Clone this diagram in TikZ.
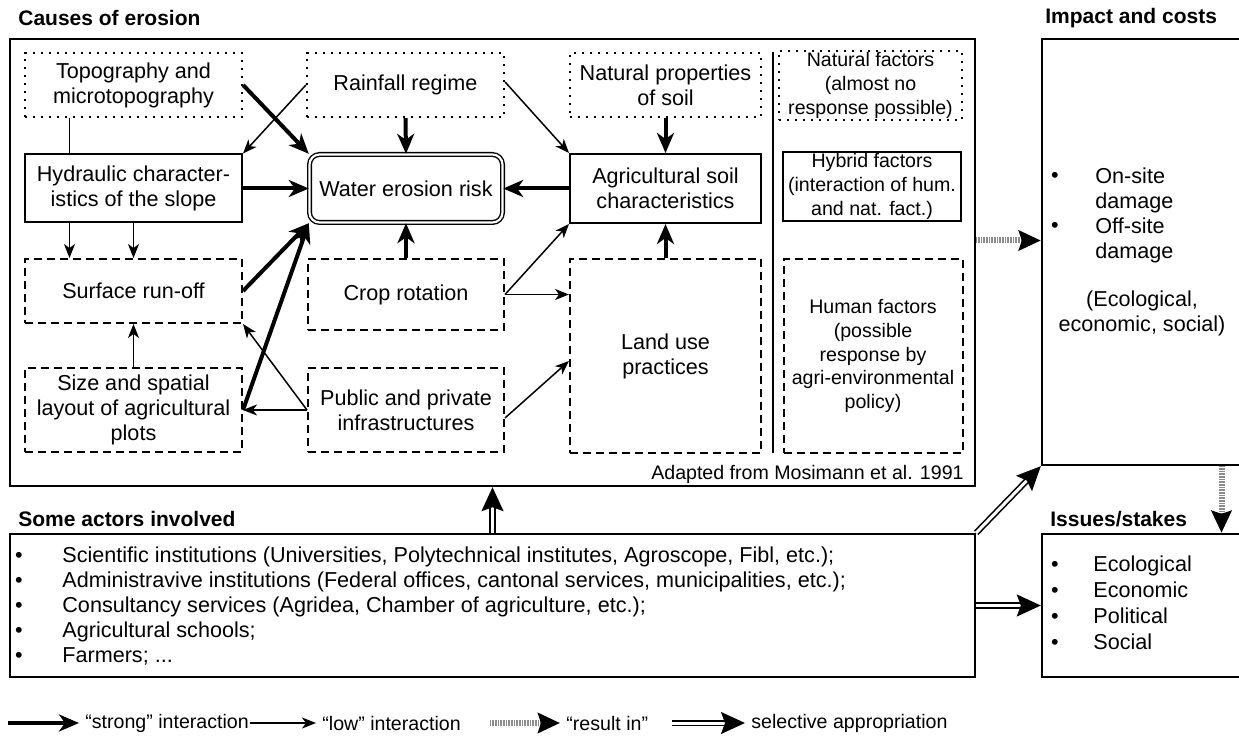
\documentclass[tikz,border=0pt]{standalone}
\usepackage{fontspec}
\setmainfont{Liberation Sans}
\usetikzlibrary{arrows.meta}
\tikzset{txt/.style={align=center, inner sep=1pt, font=\fontsize{10.8}{12.5}\selectfont},
  smalltxt/.style={align=center, inner sep=1pt, font=\fontsize{9.8}{11.8}\selectfont},
  legtxt/.style={anchor=west, inner xsep=3pt, inner ysep=1pt, font=\fontsize{9.8}{11.8}\selectfont},
  listtxt/.style={anchor=west, inner sep=0pt, text height=8pt, text depth=2.5pt, font=\fontsize{10.8}{12.5}\selectfont},
  titletxt/.style={anchor=west, inner sep=0pt, font=\fontsize{10.5}{12}\selectfont\bfseries},
  solidbox/.style={draw, line width=1pt, txt},
  riskbox/.style={draw, double, line width=0.7pt, double distance=1.1pt, rounded corners=5pt, txt},
  dotbox/.style={draw, line width=1.1pt, dash pattern=on 1.1pt off 2.9pt, txt},
  dashbox/.style={draw, line width=1pt, dash pattern=on 4pt off 2.5pt, txt},
  framebox/.style={draw, line width=1.2pt, inner sep=0pt},
  strongarr/.style={line width=2pt, -{Stealth[length=10pt, width=8.5pt, inset=3pt]}},
  lowarr/.style={line width=0.75pt, -{Stealth[length=7pt, width=5.5pt, inset=2pt]}},
  resarr/.style={draw=black!45, line width=3pt, dash pattern=on 0.35pt off 0.45pt, -{Stealth[length=11pt, width=10pt, inset=1.5pt, black]}},
  apparr/.style={double, line width=0.8pt, double distance=1.5pt, -{Stealth[length=12pt, width=11pt, inset=2pt]}}}

\begin{document}
\begin{tikzpicture}[x=0.5pt, y=-0.5pt]
  \useasboundingbox (0,0) rectangle (1239,749);
  \node [framebox, minimum width=482.5pt, minimum height=223.5pt] (causes) at (492.5,262.5) {};
  \node [framebox, minimum width=101.5pt, minimum height=213pt] (impact) at (1143.5,252) {};
  \node [framebox, minimum width=482.5pt, minimum height=71.5pt] (actors) at (492.5,605.5) {};
  \node [framebox, minimum width=101.5pt, minimum height=71.5pt] (issues) at (1143.5,605.5) {};
  \node [titletxt] (tcauses) at (18,18) {Causes of erosion};
  \node [titletxt] (timpact) at (1045,18) {Impact and costs};
  \node [titletxt] (tactors) at (18,519) {Some actors involved};
  \node [titletxt] (tissues) at (1050,519) {Issues/stakes};

  \node [dotbox, minimum width=108.5pt, minimum height=32pt] (topo) at (133.5,85) {Topography and\\microtopography};
  \node [dotbox, minimum width=98.5pt, minimum height=32pt] (rain) at (405.5,85) {Rainfall regime};
  \node [dotbox, minimum width=95.5pt, minimum height=32pt] (natprop) at (665.5,85) {Natural properties\\of soil};
  \node [solidbox, minimum width=108.5pt, minimum height=34pt] (hydr) at (133.5,188.5) {Hydraulic character-\\istics of the slope};
  \node [riskbox, minimum width=96.5pt, minimum height=34pt] (risk) at (406,188.5) {Water erosion risk};
  \node [solidbox, minimum width=95.5pt, minimum height=34.5pt] (agsoil) at (665.5,188.5) {Agricultural soil\\characteristics};
  \node [dashbox, minimum width=108.5pt, minimum height=32pt] (runoff) at (133.5,291) {Surface run-off};
  \node [dashbox, minimum width=98pt, minimum height=35.5pt] (crop) at (406,294.5) {Crop rotation};
  \node [dashbox, minimum width=95.5pt, minimum height=97pt] (landuse) at (665.5,356) {Land use\\practices};
  \node [dashbox, minimum width=108.5pt, minimum height=42pt] (plots) at (133.5,410) {Size and spatial\\layout of agricultural\\plots};
  \node [dashbox, minimum width=98pt, minimum height=42pt] (infra) at (406,410) {Public and private\\infrastructures};

  \draw [line width=1pt] (773,52) -- (773,453);
  \node [dotbox, smalltxt, minimum width=91.5pt, minimum height=34.5pt] (natfac) at (870.5,85.5) {Natural factors\\(almost no\\response possible)};
  \node [solidbox, smalltxt, minimum width=89pt, minimum height=33.5pt] (hybrid) at (872,186.5) {Hybrid factors\\(interaction of hum.\\and nat. fact.)};
  \node [dashbox, smalltxt, minimum width=89.5pt, minimum height=97pt] (human) at (873,356) {Human factors\\(possible\\response by\\agri-environmental\\policy)};
  \node [smalltxt, anchor=east] (source) at (966,474) {Adapted from Mosimann et al. 1991};

  \draw [strongarr] (topo.east) -- (risk.north west);
  \draw [lowarr] (rain.west) -- (hydr.north east);
  \draw [line width=0.75pt] ([xshift=-32pt]topo.south) -- ([xshift=-32pt]hydr.north);
  \draw [strongarr] (rain.south) -- (risk.north);
  \draw [lowarr] ([yshift=1.5pt]rain.east) -- (agsoil.north west);
  \draw [strongarr] (natprop.south) -- (agsoil.north);
  \draw [strongarr] (hydr.east) -- (risk.west);
  \draw [strongarr] (agsoil.west) -- (risk.east);
  \draw [lowarr] ([xshift=-32pt]hydr.south) -- ([xshift=-32pt]runoff.north);
  \draw [lowarr] (hydr.south) -- (runoff.north);
  \draw [strongarr] (runoff.east) -- (risk.south west);
  \draw [strongarr] (plots.east) -- (risk.south west);
  \draw [lowarr] (infra.west) -- (plots.east);
  \draw [lowarr] (infra.west) -- (runoff.south east);
  \draw [lowarr] (plots.north) -- (runoff.south);
  \draw [strongarr] (crop.north) -- (risk.south);
  \draw [lowarr] (crop.east) -- (agsoil.south west);
  \draw [lowarr] (crop.east) -- (crop.east -| landuse.west);
  \draw [lowarr] ([yshift=-4pt]infra.east) -- ([yshift=-2.5pt]landuse.west);
  \draw [strongarr] (landuse.north) -- (agsoil.south);

  \foreach \y in {177,227} {
    \node [listtxt, anchor=center] (ib\y) at (1055,\y) {•};
  }
  \node [txt, anchor=west, align=left] (damage) at (1093,215) {On-site\\damage\\Off-site\\damage};
  \node [txt] (kinds) at (1142,313) {(Ecological,\\economic, social)};

  \foreach \y/\t [count=\i] in {566/Ecological, 592/Economic, 618/Political, 644/Social} {
    \node [listtxt, anchor=center] (sb\i) at (1055,\y) {•};
    \node [listtxt] (st\i) at (1093,\y) {\t};
  }
  \foreach \y/\t [count=\i] in {557/{Scientific institutions (Universities, Polytechnical institutes, Agroscope, Fibl, etc.);},
      582/{Administravive institutions (Federal offices, cantonal services, municipalities, etc.);},
      607/{Consultancy services (Agridea, Chamber of agriculture, etc.);},
      632/{Agricultural schools;},
      657/{Farmers; ...}} {
    \node [listtxt, anchor=center] (ab\i) at (19,\y) {•};
    \node [listtxt] (at\i) at (62,\y) {\t};
  }

  \draw [resarr] ([yshift=11pt]causes.east) -- ([yshift=11pt]causes.east -| impact.west);
  \draw [resarr] ([xshift=39pt]impact.south) -- ([xshift=39pt]issues.north);
  \draw [apparr] (actors.north) -- (causes.south);
  \draw [apparr] (actors.north east) -- (impact.south west);
  \draw [apparr] (actors.east) -- (issues.west);

  \coordinate (ls) at (8,723);
  \coordinate (ll) at (250,723);
  \coordinate (lr) at (490,723);
  \coordinate (la) at (672,723);
  \node [legtxt] (lstrong) at (79,723) {“strong” interaction};
  \node [legtxt] (llow) at (316,723) {“low” interaction};
  \node [legtxt] (lres) at (560,723) {“result in”};
  \node [legtxt] (lapp) at (745,723) {selective appropriation};
  \draw [strongarr] (ls) -- (lstrong.west);
  \draw [lowarr] (ll) -- (llow.west);
  \draw [resarr] (lr) -- (lres.west);
  \draw [apparr] (la) -- (lapp.west);
\end{tikzpicture}
\end{document}
